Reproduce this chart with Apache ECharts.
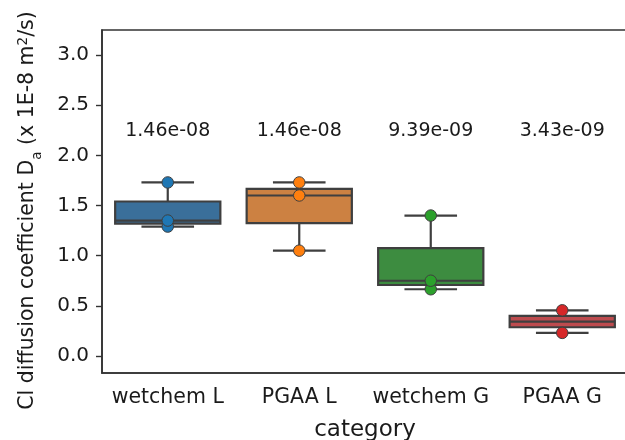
<!DOCTYPE html>
<html>
<head>
<meta charset="utf-8">
<script src="https://cdn.jsdelivr.net/npm/echarts@6/dist/echarts.min.js"></script>
<style>
  html, body { margin: 0; padding: 0; background: #fff; }
  #chart { width: 625px; height: 440px; }
</style>
</head>
<body>
<div id="chart"></div>
<script>
var categories = ['wetchem L', 'PGAA L', 'wetchem G', 'PGAA G'];
// individual measurements per category (x 1E-8 m2/s)
var wetchemL = [1.29, 1.35, 1.73];
var pgaaL = [1.05, 1.60, 1.73];
var wetchemG = [0.665, 0.75, 1.40];
var pgaaG = [0.23, 0.455];
var meanLabels = ['1.46e-08', '1.46e-08', '9.39e-09', '3.43e-09'];
var yTicks = [0, 0.5, 1.0, 1.5, 2.0, 2.5, 3.0];

var groups = [wetchemL, pgaaL, wetchemG, pgaaG];
var boxColors = ['#3a6f9a', '#cc8142', '#3d8c40', '#bd4b4e'];
var dotColors = ['#1f77b4', '#ff7f0e', '#2ca02c', '#d62728'];
var edge = '#3f3f3f';

// quantile with linear interpolation
function quantile(arr, q) {
    var s = arr.slice().sort(function(a, b) { return a - b; });
    var pos = (s.length - 1) * q;
    var lo = Math.floor(pos), hi = Math.ceil(pos);
    return s[lo] + (s[hi] - s[lo]) * (pos - lo);
}

var boxData = groups.map(function(g, i) {
    var q1 = quantile(g, 0.25), q3 = quantile(g, 0.75), iqr = q3 - q1;
    var lo = Math.min.apply(null, g.filter(function(v) { return v >= q1 - 1.5 * iqr; }));
    var hi = Math.max.apply(null, g.filter(function(v) { return v <= q3 + 1.5 * iqr; }));
    return [i, lo, q1, quantile(g, 0.5), q3, hi];
});

var pointSeries = groups.map(function(g, i) {
    return {
        type: 'scatter',
        z: 5,
        symbolSize: 11.5,
        itemStyle: { color: dotColors[i], borderColor: edge, borderWidth: 1, opacity: 1 },
        data: g.map(function(v) { return [i, v]; })
    };
});

function renderBox(params, api) {
    var i = api.value(0);
    var band = api.size([1, 0])[0];
    var half = band * 0.4, cap = band * 0.2;
    var x = api.coord([i, 0])[0];
    var yLo = api.coord([i, api.value(1)])[1];
    var yQ1 = api.coord([i, api.value(2)])[1];
    var yMed = api.coord([i, api.value(3)])[1];
    var yQ3 = api.coord([i, api.value(4)])[1];
    var yHi = api.coord([i, api.value(5)])[1];
    var ls = { stroke: edge, lineWidth: 2.2 };
    return {
        type: 'group',
        children: [
            { type: 'line', shape: { x1: x, y1: yQ1, x2: x, y2: yLo }, style: ls },
            { type: 'line', shape: { x1: x, y1: yQ3, x2: x, y2: yHi }, style: ls },
            { type: 'line', shape: { x1: x - cap, y1: yLo, x2: x + cap, y2: yLo }, style: ls },
            { type: 'line', shape: { x1: x - cap, y1: yHi, x2: x + cap, y2: yHi }, style: ls },
            { type: 'rect', shape: { x: x - half, y: yQ3, width: 2 * half, height: yQ1 - yQ3 },
              style: { fill: boxColors[i], stroke: edge, lineWidth: 2.2 } },
            { type: 'line', shape: { x1: x - half, y1: yMed, x2: x + half, y2: yMed }, style: ls }
        ]
    };
}

var chart = echarts.init(document.getElementById('chart'));
var font = 'DejaVu Sans';
var option = {
    animation: false,
    textStyle: { fontFamily: font },
    grid: {
        left: 102, top: 30, width: 526, height: 343,
        outerBoundsMode: 'none',
        show: true, borderColor: '#333', borderWidth: 1.6
    },
    xAxis: {
        type: 'category',
        data: categories,
        boundaryGap: true,
        axisLine: { onZero: false, lineStyle: { color: '#333', width: 1.6 } },
        axisTick: { alignWithLabel: true, interval: 0, length: 6, lineStyle: { color: '#333', width: 1.4 } },
        axisLabel: { interval: 0, fontSize: 20.5, color: '#1a1a1a', margin: 14, fontFamily: font },
        name: 'category',
        nameLocation: 'middle',
        nameGap: 46,
        nameTextStyle: { fontSize: 23, color: '#1a1a1a', fontFamily: font }
    },
    yAxis: {
        type: 'value',
        min: -0.17,
        max: 3.25,
        splitLine: { show: false },
        axisLine: { show: true, lineStyle: { color: '#333', width: 1.6 } },
        axisTick: { show: true, length: 6, customValues: yTicks, lineStyle: { color: '#333', width: 1.4 } },
        axisLabel: {
            fontSize: 20, color: '#1a1a1a', margin: 13, fontFamily: font,
            customValues: yTicks,
            formatter: function(v) { return v.toFixed(1); }
        },
        name: '{n|Cl diffusion coefficient D}{sub|a}{n| (x 1E-8 m}{sup|2}{n|/s)}',
        nameLocation: 'middle',
        nameRotate: 90,
        nameGap: 62,
        nameTextStyle: {
            color: '#1a1a1a',
            fontFamily: font,
            padding: [0, 18, 0, 0],
            rich: {
                n: { fontSize: 20.5, color: '#1a1a1a', fontFamily: font, height: 24, verticalAlign: 'bottom' },
                sub: { fontSize: 13.5, color: '#1a1a1a', fontFamily: font, verticalAlign: 'bottom', padding: [0, 0, -4, 0] },
                sup: { fontSize: 13.5, color: '#1a1a1a', fontFamily: font, verticalAlign: 'top' }
            }
        }
    },
    series: [
        {
            type: 'custom',
            z: 2,
            renderItem: renderBox,
            encode: { x: 0, y: [1, 2, 3, 4, 5] },
            data: boxData
        },
        {
            type: 'scatter',
            symbolSize: 0,
            silent: true,
            itemStyle: { color: '#1a1a1a', opacity: 1 },
            label: {
                show: true,
                position: 'inside',
                fontSize: 19,
                color: '#1a1a1a',
                textBorderWidth: 0,
                fontFamily: font,
                formatter: function(p) { return meanLabels[p.dataIndex]; }
            },
            data: categories.map(function(c, i) { return [i, 2.24]; })
        }
    ].concat(pointSeries)
};
chart.setOption(option);
window.addEventListener('resize', function() {
    chart.resize();
});
</script>
</body>
</html>
